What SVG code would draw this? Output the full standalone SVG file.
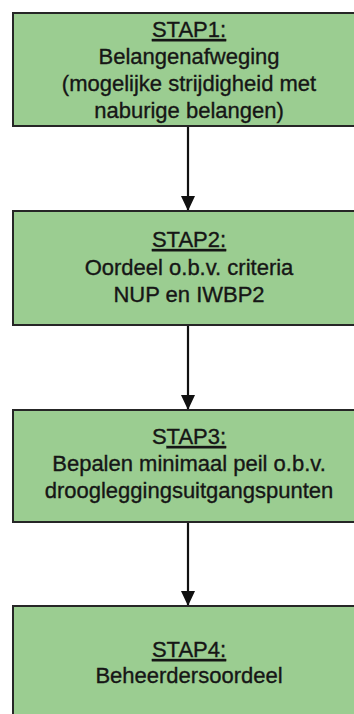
<svg xmlns="http://www.w3.org/2000/svg" width="354" height="714" viewBox="0 0 354 714">
<defs>
<style>
.box{fill:#9bcd91;stroke:#262626;stroke-width:2}
.t{font-family:"Liberation Sans",Arial,sans-serif;font-size:22px;fill:#161616;stroke:#161616;stroke-width:0.35;text-anchor:middle}
.u{text-decoration:underline}
.conn{stroke:#111;stroke-width:2.2;fill:none}
</style>
<marker id="ah" viewBox="0 0 15 14" refX="15" refY="7" markerWidth="15" markerHeight="14" markerUnits="userSpaceOnUse" orient="auto">
<path d="M0,0 L15,7 L0,14 Z" fill="#111"/>
</marker>
</defs>
<rect width="354" height="714" fill="#ffffff"/>
<g id="connectors">
<line class="conn" x1="188" y1="126" x2="188" y2="211" marker-end="url(#ah)"/>
<line class="conn" x1="188" y1="325" x2="188" y2="410" marker-end="url(#ah)"/>
<line class="conn" x1="188" y1="522" x2="188" y2="606" marker-end="url(#ah)"/>
</g>
<g id="stap1">
<rect class="box" x="13" y="13" width="360" height="113"/>
<text class="t" x="189" y="37"><tspan class="u">STAP1:</tspan></text>
<text class="t" x="189" y="64">Belangenafweging</text>
<text class="t" x="189" y="91">(mogelijke strijdigheid met</text>
<text class="t" x="189" y="117.5">naburige belangen)</text>
</g>
<g id="stap2">
<rect class="box" x="13" y="211" width="360" height="114"/>
<text class="t" x="189" y="247"><tspan class="u">STAP2:</tspan></text>
<text class="t" x="189" y="274.5">Oordeel o.b.v. criteria</text>
<text class="t" x="189" y="302">NUP en IWBP2</text>
</g>
<g id="stap3">
<rect class="box" x="13" y="410" width="360" height="112"/>
<text class="t" x="189" y="444">S<tspan class="u">TAP3:</tspan></text>
<text class="t" x="189" y="471">Bepalen minimaal peil o.b.v.</text>
<text class="t" x="189" y="498">droogleggingsuitgangspunten</text>
</g>
<g id="stap4">
<rect class="box" x="13" y="606" width="360" height="120"/>
<text class="t" x="189" y="657"><tspan class="u">STAP4:</tspan></text>
<text class="t" x="189" y="683">Beheerdersoordeel</text>
</g>
</svg>
